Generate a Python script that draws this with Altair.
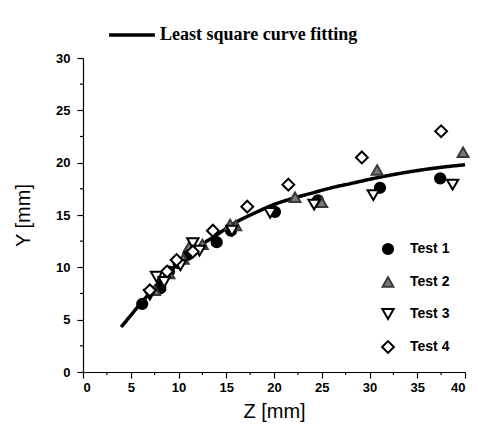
import altair as alt
import pandas as pd

# ---- data ----
t1_x = [6.2, 8.1, 9.0, 10.0, 11.0, 14.0, 15.5, 20.1, 24.6, 31.1, 37.4]
t1_y = [6.5, 8.0, 9.6, 10.4, 11.2, 12.4, 13.5, 15.3, 16.4, 17.6, 18.5]
t2_x = [7.5, 9.0, 10.5, 11.2, 12.5, 15.4, 16.0, 22.2, 25.0, 30.8, 39.8]
t2_y = [7.8, 9.4, 10.8, 12.1, 12.2, 14.1, 14.0, 16.7, 16.2, 19.3, 21.0]
t3_x = [7.0, 7.7, 8.5, 10.2, 11.5, 12.2, 15.6, 19.6, 24.2, 30.4, 38.7]
t3_y = [7.4, 9.1, 8.6, 10.2, 12.3, 11.6, 13.5, 15.2, 16.0, 16.9, 17.9]
t4_x = [7.0, 8.8, 9.8, 11.5, 13.6, 17.2, 21.5, 29.2, 37.5]
t4_y = [7.8, 9.6, 10.7, 11.5, 13.5, 15.8, 17.9, 20.5, 23.0]

fit_x = [4, 6, 8, 10, 12, 14, 16, 18, 20, 22, 24, 26, 28, 31, 34, 37, 40]
fit_y = [4.3, 6.5, 8.6, 10.4, 11.9, 13.1, 14.3, 15.2, 16.0, 16.6, 17.1, 17.6, 18.0, 18.6, 19.1, 19.5, 19.8]

x_major = [0, 5, 10, 15, 20, 25, 30, 35, 40]
x_minor = [2.5, 7.5, 12.5, 17.5, 22.5, 27.5, 32.5, 37.5]
y_major = [0, 5, 10, 15, 20, 25, 30]
y_minor = [2.5, 7.5, 12.5, 17.5, 22.5, 27.5]

tests = ["Test 1", "Test 2", "Test 3", "Test 4"]
shapes = ["circle", "triangle-up", "triangle-down", "diamond"]
fills = ["black", "#7a7a7a", "white", "white"]
strokes = ["black", "#3a3a3a", "black", "black"]
sizes = [105, 140, 150, 165]
fit_label = "Least square curve fitting"

rows = []
for name, xs_, ys_ in zip(tests, [t1_x, t2_x, t3_x, t4_x], [t1_y, t2_y, t3_y, t4_y]):
    for a, b in zip(xs_, ys_):
        rows.append({"z": a, "y": b, "test": name})
pts = pd.DataFrame(rows)
fit = pd.DataFrame({"z": fit_x, "y": fit_y, "label": fit_label})

W, H = 382, 314
xs = alt.Scale(domain=[0, 40], nice=False)
ys = alt.Scale(domain=[0, 30], nice=False)

x_axis = alt.Axis(values=x_major, title="Z [mm]", grid=False, tickSize=6,
                  labelPadding=3, titlePadding=7)
y_axis = alt.Axis(values=y_major, title="Y [mm]", grid=False, tickSize=6,
                  labelPadding=7, titlePadding=22)

line = alt.Chart(fit).mark_line(strokeWidth=3.5, color="black", interpolate="monotone").encode(
    x=alt.X("z:Q", scale=xs, axis=x_axis),
    y=alt.Y("y:Q", scale=ys, axis=y_axis),
    strokeDash=alt.StrokeDash("label:N", scale=alt.Scale(range=[[1, 0]]),
                              legend=alt.Legend(title=None, orient="none", legendX=24, legendY=-48,
                                                symbolType="stroke", symbolSize=2100,
                                                symbolStrokeColor="black",
                                                symbolStrokeWidth=3.5, labelFont="Liberation Serif",
                                                labelFontWeight="bold", labelFontSize=18, labelLimit=0,
                                                labelOffset=3, padding=0)),
)

leg = alt.Legend(title=None, orient="none", legendX=298, legendY=184, padding=0,
                 rowPadding=14, labelFont="Liberation Sans", labelFontWeight="bold",
                 labelFontSize=14, labelOffset=15, symbolStrokeWidth=2)

points = alt.Chart(pts).mark_point(filled=True, strokeWidth=2, opacity=1).encode(
    x=alt.X("z:Q", scale=xs),
    y=alt.Y("y:Q", scale=ys),
    shape=alt.Shape("test:N", scale=alt.Scale(domain=tests, range=shapes), legend=leg),
    fill=alt.Fill("test:N", scale=alt.Scale(domain=tests, range=fills), legend=leg),
    stroke=alt.Stroke("test:N", scale=alt.Scale(domain=tests, range=strokes), legend=leg),
    size=alt.Size("test:N", scale=alt.Scale(domain=tests, range=sizes), legend=leg),
)

xm = alt.Chart(pd.DataFrame({"v": x_minor})).mark_rule(color="black", strokeWidth=1.2).encode(
    x=alt.X("v:Q", scale=xs), y=alt.value(H), y2=alt.value(H + 3))
ym = alt.Chart(pd.DataFrame({"v": y_minor})).mark_rule(color="black", strokeWidth=1.2).encode(
    y=alt.Y("v:Q", scale=ys), x=alt.value(0), x2=alt.value(-3))

chart = alt.layer(line, points, xm, ym).properties(
    width=W, height=H,
    autosize=alt.AutoSizeParams(type="none"),
    padding={"left": 75, "top": 50, "right": 5, "bottom": 55},
).configure_view(stroke=None).configure_axis(
    domainColor="black", domainWidth=1.2, tickColor="black", tickWidth=1.2,
    labelColor="black", labelFont="Liberation Sans", labelFontWeight="bold", labelFontSize=13,
    titleColor="black", titleFont="Liberation Sans", titleFontWeight="normal", titleFontSize=20,
).configure_legend(labelColor="black")

chart.save("out.html", embed_options={"renderer": "svg", "actions": False})
